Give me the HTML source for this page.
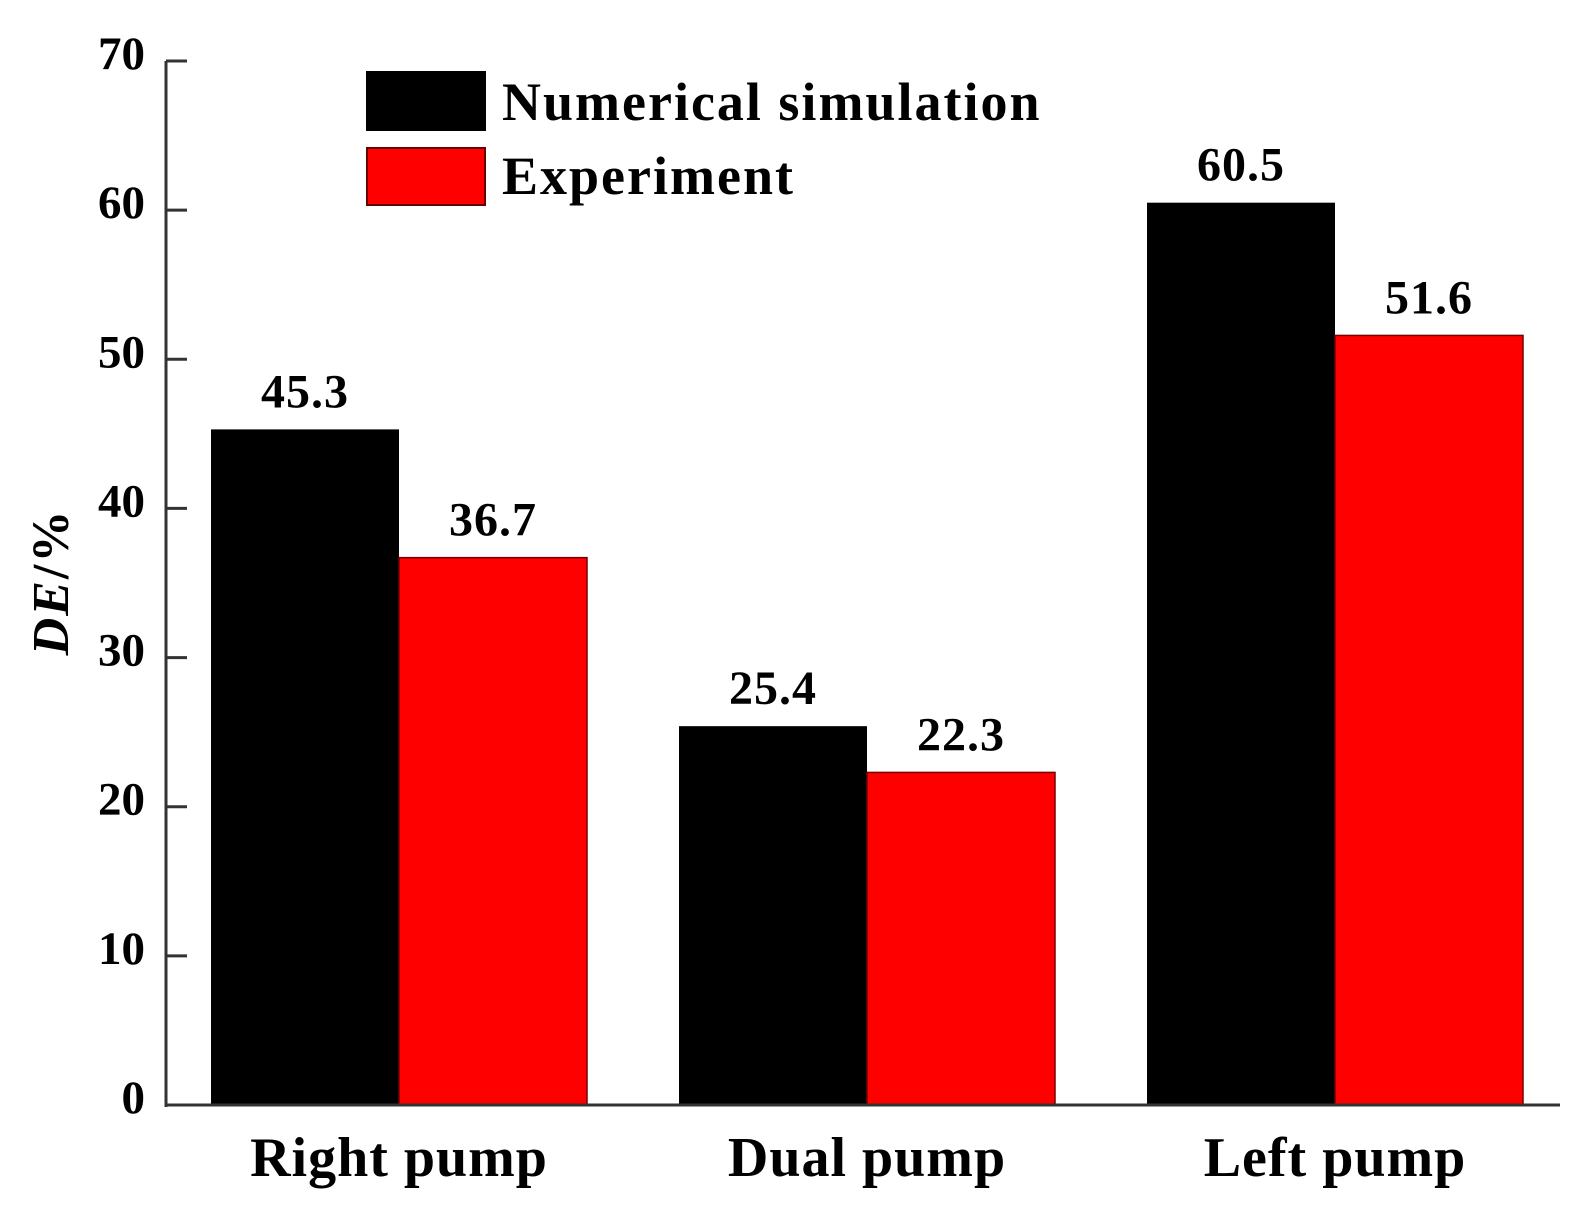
<!DOCTYPE html>
<html><head><meta charset="utf-8"><style>
html,body{margin:0;padding:0;background:#fff;}
svg{display:block;font-family:"Liberation Serif",serif;font-weight:bold;}
</style></head><body>
<svg id="chart" width="1586" height="1219" viewBox="0 0 1586 1219">
<g id="bars"></g>
<g id="axis"></g>
<g>
<rect x="366" y="71" width="120" height="60" fill="#000"/>
<text x="502" y="120" font-size="54" letter-spacing="2">Numerical simulation</text>
<rect x="367" y="148" width="118" height="57" fill="#ff0000" stroke="#600" stroke-width="2"/>
<text x="502" y="194" font-size="54" letter-spacing="2">Experiment</text>
</g>
<text transform="translate(68,582) rotate(-90)" text-anchor="middle" font-size="52" letter-spacing="2"><tspan font-style="italic">DE</tspan>/%</text>
</svg>
<script>
const categories = ["Right pump","Dual pump","Left pump"];
const simulation = [45.3,25.4,60.5];
const experiment = [36.7,22.3,51.6];
const yTicks = [0,10,20,30,40,50,60,70];
const NS="http://www.w3.org/2000/svg";
const y0=1105, yTop=61, yMax=70, axisX=166;
function y(v){return y0-(y0-yTop)*v/yMax;}
function catX(i){return 211+i*468;}
const bw=188;
const bars=document.getElementById('bars'), axis=document.getElementById('axis');
function mk(tag,attrs,parent){const e=document.createElementNS(NS,tag);for(const k in attrs)e.setAttribute(k,attrs[k]);parent.appendChild(e);return e;}
categories.forEach((c,i)=>{
  const x=catX(i);
  const b1=mk('rect',{x:x,y:y(simulation[i]),width:bw,height:y0-y(simulation[i]),fill:'#000'},bars);
  
  
  const b2=mk('rect',{x:x+bw,y:y(experiment[i]),width:bw,height:y0-y(experiment[i]),fill:'#ff0000',stroke:'#700','stroke-width':1.5},bars);
  
  
  const t1=mk('text',{x:x+bw/2,y:y(simulation[i])-22,'text-anchor':'middle','font-size':48,'letter-spacing':1},bars);
  t1.textContent=simulation[i].toFixed(1);
  
  
  const t2=mk('text',{x:x+bw*1.5,y:y(experiment[i])-22,'text-anchor':'middle','font-size':48,'letter-spacing':1},bars);
  t2.textContent=experiment[i].toFixed(1);
  
  
  const cl=mk('text',{x:x+bw,y:1176,'text-anchor':'middle','font-size':56,'letter-spacing':1},axis);
  cl.textContent=c;
  
  
});
const yl=mk('line',{x1:axisX,y1:yTop,x2:axisX,y2:y0+2,stroke:'#333','stroke-width':3},axis);


const xl=mk('line',{x1:axisX-1,y1:y0,x2:1560,y2:y0,stroke:'#333','stroke-width':3},axis);


yTicks.forEach(v=>{
  const tk=mk('line',{x1:axisX,y1:y(v),x2:axisX+21,y2:y(v),stroke:'#333','stroke-width':3},axis);
  
  
  const tl=mk('text',{x:145,y:y(v)+8,'text-anchor':'end','font-size':47},axis);
  tl.textContent=v;
  
  
});
</script>
</body></html>
